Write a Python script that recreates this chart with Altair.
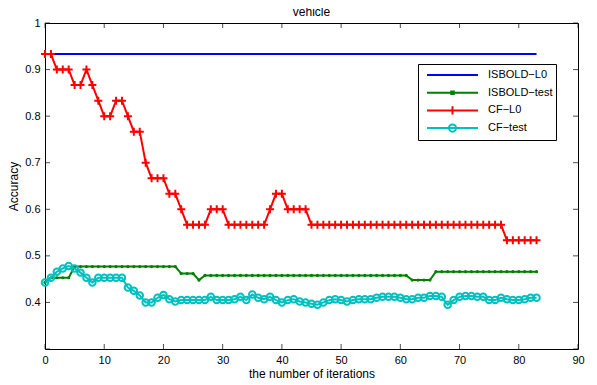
import altair as alt
import pandas as pd

# ---------------- data ----------------
iterations = list(range(84))

isbold_l0 = [
    0.9333, 0.9333, 0.9333, 0.9333, 0.9333, 0.9333, 0.9333, 0.9333, 0.9333, 0.9333,
    0.9333, 0.9333, 0.9333, 0.9333, 0.9333, 0.9333, 0.9333, 0.9333, 0.9333, 0.9333,
    0.9333, 0.9333, 0.9333, 0.9333, 0.9333, 0.9333, 0.9333, 0.9333, 0.9333, 0.9333,
    0.9333, 0.9333, 0.9333, 0.9333, 0.9333, 0.9333, 0.9333, 0.9333, 0.9333, 0.9333,
    0.9333, 0.9333, 0.9333, 0.9333, 0.9333, 0.9333, 0.9333, 0.9333, 0.9333, 0.9333,
    0.9333, 0.9333, 0.9333, 0.9333, 0.9333, 0.9333, 0.9333, 0.9333, 0.9333, 0.9333,
    0.9333, 0.9333, 0.9333, 0.9333, 0.9333, 0.9333, 0.9333, 0.9333, 0.9333, 0.9333,
    0.9333, 0.9333, 0.9333, 0.9333, 0.9333, 0.9333, 0.9333, 0.9333, 0.9333, 0.9333,
    0.9333, 0.9333, 0.9333, 0.9333,
]

isbold_test = [
    0.443, 0.453, 0.453, 0.453, 0.453, 0.477, 0.477, 0.477, 0.477, 0.477,
    0.477, 0.477, 0.477, 0.477, 0.477, 0.477, 0.477, 0.477, 0.477, 0.477,
    0.477, 0.477, 0.477, 0.462, 0.462, 0.462, 0.448, 0.458, 0.458, 0.458,
    0.458, 0.458, 0.458, 0.458, 0.458, 0.458, 0.458, 0.458, 0.458, 0.458,
    0.458, 0.458, 0.458, 0.458, 0.458, 0.458, 0.458, 0.458, 0.458, 0.458,
    0.458, 0.458, 0.458, 0.458, 0.458, 0.458, 0.458, 0.458, 0.458, 0.458,
    0.458, 0.458, 0.448, 0.448, 0.448, 0.448, 0.466, 0.466, 0.466, 0.466,
    0.466, 0.466, 0.466, 0.466, 0.466, 0.466, 0.466, 0.466, 0.466, 0.466,
    0.466, 0.466, 0.466, 0.466,
]

cf_l0 = [
    0.9333, 0.9333, 0.9, 0.9, 0.9, 0.8667, 0.8667, 0.9, 0.8667, 0.8333,
    0.8, 0.8, 0.8333, 0.8333, 0.8, 0.7667, 0.7667, 0.7, 0.6667, 0.6667,
    0.6667, 0.6333, 0.6333, 0.6, 0.5667, 0.5667, 0.5667, 0.5667, 0.6, 0.6,
    0.6, 0.5667, 0.5667, 0.5667, 0.5667, 0.5667, 0.5667, 0.5667, 0.6, 0.6333,
    0.6333, 0.6, 0.6, 0.6, 0.6, 0.5667, 0.5667, 0.5667, 0.5667, 0.5667,
    0.5667, 0.5667, 0.5667, 0.5667, 0.5667, 0.5667, 0.5667, 0.5667, 0.5667, 0.5667,
    0.5667, 0.5667, 0.5667, 0.5667, 0.5667, 0.5667, 0.5667, 0.5667, 0.5667, 0.5667,
    0.5667, 0.5667, 0.5667, 0.5667, 0.5667, 0.5667, 0.5667, 0.5667, 0.5333, 0.5333,
    0.5333, 0.5333, 0.5333, 0.5333,
]

cf_test = [
    0.443, 0.453, 0.466, 0.473, 0.478, 0.473, 0.464, 0.453, 0.443, 0.453,
    0.453, 0.453, 0.453, 0.453, 0.432, 0.425, 0.415, 0.400, 0.400, 0.410,
    0.416, 0.407, 0.402, 0.405, 0.405, 0.405, 0.405, 0.405, 0.412, 0.405,
    0.405, 0.405, 0.407, 0.412, 0.405, 0.417, 0.410, 0.407, 0.412, 0.405,
    0.400, 0.405, 0.407, 0.402, 0.400, 0.397, 0.395, 0.400, 0.405, 0.407,
    0.405, 0.402, 0.405, 0.407, 0.407, 0.407, 0.410, 0.412, 0.412, 0.412,
    0.410, 0.407, 0.407, 0.410, 0.410, 0.414, 0.414, 0.412, 0.395, 0.405,
    0.412, 0.414, 0.414, 0.412, 0.412, 0.405, 0.405, 0.410, 0.407, 0.405,
    0.405, 0.407, 0.410, 0.410,
]

series_names = ["ISBOLD\u2212L0", "ISBOLD\u2212test", "CF\u2212L0", "CF\u2212test"]
series_colors = ["#0000ff", "#008000", "#ff0000", "#00bfbf"]
series_values = [isbold_l0, isbold_test, cf_l0, cf_test]

x_ticks = [0, 10, 20, 30, 40, 50, 60, 70, 80, 90]
y_ticks = [0.3, 0.4, 0.5, 0.6, 0.7, 0.8, 0.9, 1.0]

# legend symbols: line sample plus the series marker (unit square -1..1)
legend_paths = [
    "M-1,0H1",
    "M-1,0H1M-0.05,-0.05H0.05V0.05H-0.05Z",
    "M-1,0H1M-0.16,0H0.16M0,-0.16V0.16",
    "M-1,0H1M0.14,0A0.14,0.14,0,1,1,-0.14,0A0.14,0.14,0,1,1,0.14,0",
]
plus_path = "M-1,0H1M0,-1V1"

# ---------------- build table ----------------
rows = []
for name, vals in zip(series_names, series_values):
    for it, v in zip(iterations, vals):
        rows.append({"iteration": it, "accuracy": v, "series": name})
df = pd.DataFrame(rows)

W, H = 533, 326
FONT = "Liberation Sans"

x_scale = alt.Scale(domain=[0, 90], nice=False, zero=False)
y_scale = alt.Scale(domain=[0.3, 1.0], nice=False, zero=False)

x_axis = alt.Axis(values=x_ticks, title="the number of iterations", labelFlush=False,
                  labelPadding=5, titlePadding=3, format="d")
y_axis = alt.Axis(values=y_ticks, title="Accuracy", labelFlush=False, labelPadding=5,
                  titlePadding=4,
                  labelExpr="datum.value > 0.99 ? '1' : (datum.value < 0.35 ? '' : format(datum.value, '.1f'))")

X = alt.X("iteration:Q", scale=x_scale, axis=x_axis)
Y = alt.Y("accuracy:Q", scale=y_scale, axis=y_axis)

base = alt.Chart(df)
layers = []

def sel(name):
    return alt.datum.series == name

# ISBOLD-L0
layers.append(base.transform_filter(sel(series_names[0])).mark_line(
    color=series_colors[0], strokeWidth=2).encode(x=X, y=Y))
# ISBOLD-test
layers.append(base.transform_filter(sel(series_names[1])).mark_line(
    color=series_colors[1], strokeWidth=2).encode(x=X, y=Y))
layers.append(base.transform_filter(sel(series_names[1])).mark_point(
    color=series_colors[1], shape="circle", filled=True, size=10, opacity=1).encode(x=X, y=Y))
# CF-L0
layers.append(base.transform_filter(sel(series_names[2])).mark_line(
    color=series_colors[2], strokeWidth=2).encode(x=X, y=Y))
layers.append(base.transform_filter(sel(series_names[2])).mark_point(
    color=series_colors[2], shape=plus_path, filled=False, size=64, strokeWidth=2,
    opacity=1).encode(x=X, y=Y))
# CF-test
layers.append(base.transform_filter(sel(series_names[3])).mark_line(
    color=series_colors[3], strokeWidth=2).encode(x=X, y=Y))
layers.append(base.transform_filter(sel(series_names[3])).mark_point(
    color=series_colors[3], shape="circle", filled=False, size=42, strokeWidth=2,
    opacity=1).encode(x=X, y=Y))

# legend carrier (invisible marks, visible legend)
layers.append(base.mark_point(opacity=0, filled=False, strokeWidth=2).encode(
    x=X, y=Y,
    color=alt.Color("series:N", scale=alt.Scale(domain=series_names, range=series_colors),
                    legend=alt.Legend(title=None)),
    shape=alt.Shape("series:N", scale=alt.Scale(domain=series_names, range=legend_paths),
                    legend=alt.Legend(title=None)),
))

# inward ticks on all four sides (MATLAB box style)
xt = pd.DataFrame({"iteration": x_ticks})
yt = pd.DataFrame({"accuracy": y_ticks})
layers.append(alt.Chart(xt).mark_tick(color="black", thickness=1, size=5).encode(
    x=X, y=alt.value(H - 2.5)))
layers.append(alt.Chart(xt).mark_tick(color="black", thickness=1, size=5).encode(
    x=X, y=alt.value(2.5)))
layers.append(alt.Chart(yt).mark_tick(color="black", thickness=1, size=5).encode(
    y=Y, x=alt.value(2.5)))
layers.append(alt.Chart(yt).mark_tick(color="black", thickness=1, size=5).encode(
    y=Y, x=alt.value(W - 2.5)))

chart = alt.layer(*layers).properties(
    width=W,
    height=H,
    title=alt.TitleParams("vehicle", fontSize=12, fontWeight="normal", font=FONT,
                          color="black", offset=-2),
    autosize=alt.AutoSizeParams(type="none"),
    padding={"left": 37, "top": 15, "right": 11, "bottom": 36},
).configure_view(
    stroke="black", strokeWidth=1
).configure_axis(
    labelFont=FONT, labelFontSize=11, labelColor="black",
    titleFont=FONT, titleFontSize=12, titleFontWeight="normal", titleColor="black",
    grid=False, domain=False, ticks=False, tickSize=0,
).configure_legend(
    orient="none", legendX=373, legendY=41,
    padding=3, symbolOffset=5, labelOffset=9, clipHeight=16, rowPadding=1.7,
    symbolSize=2601, symbolStrokeWidth=2, symbolOpacity=1,
    strokeColor="black", fillColor="white",
    labelFont=FONT, labelFontSize=11, labelColor="black",
)

chart.save("out.html", embed_options={"renderer": "svg", "actions": False})
